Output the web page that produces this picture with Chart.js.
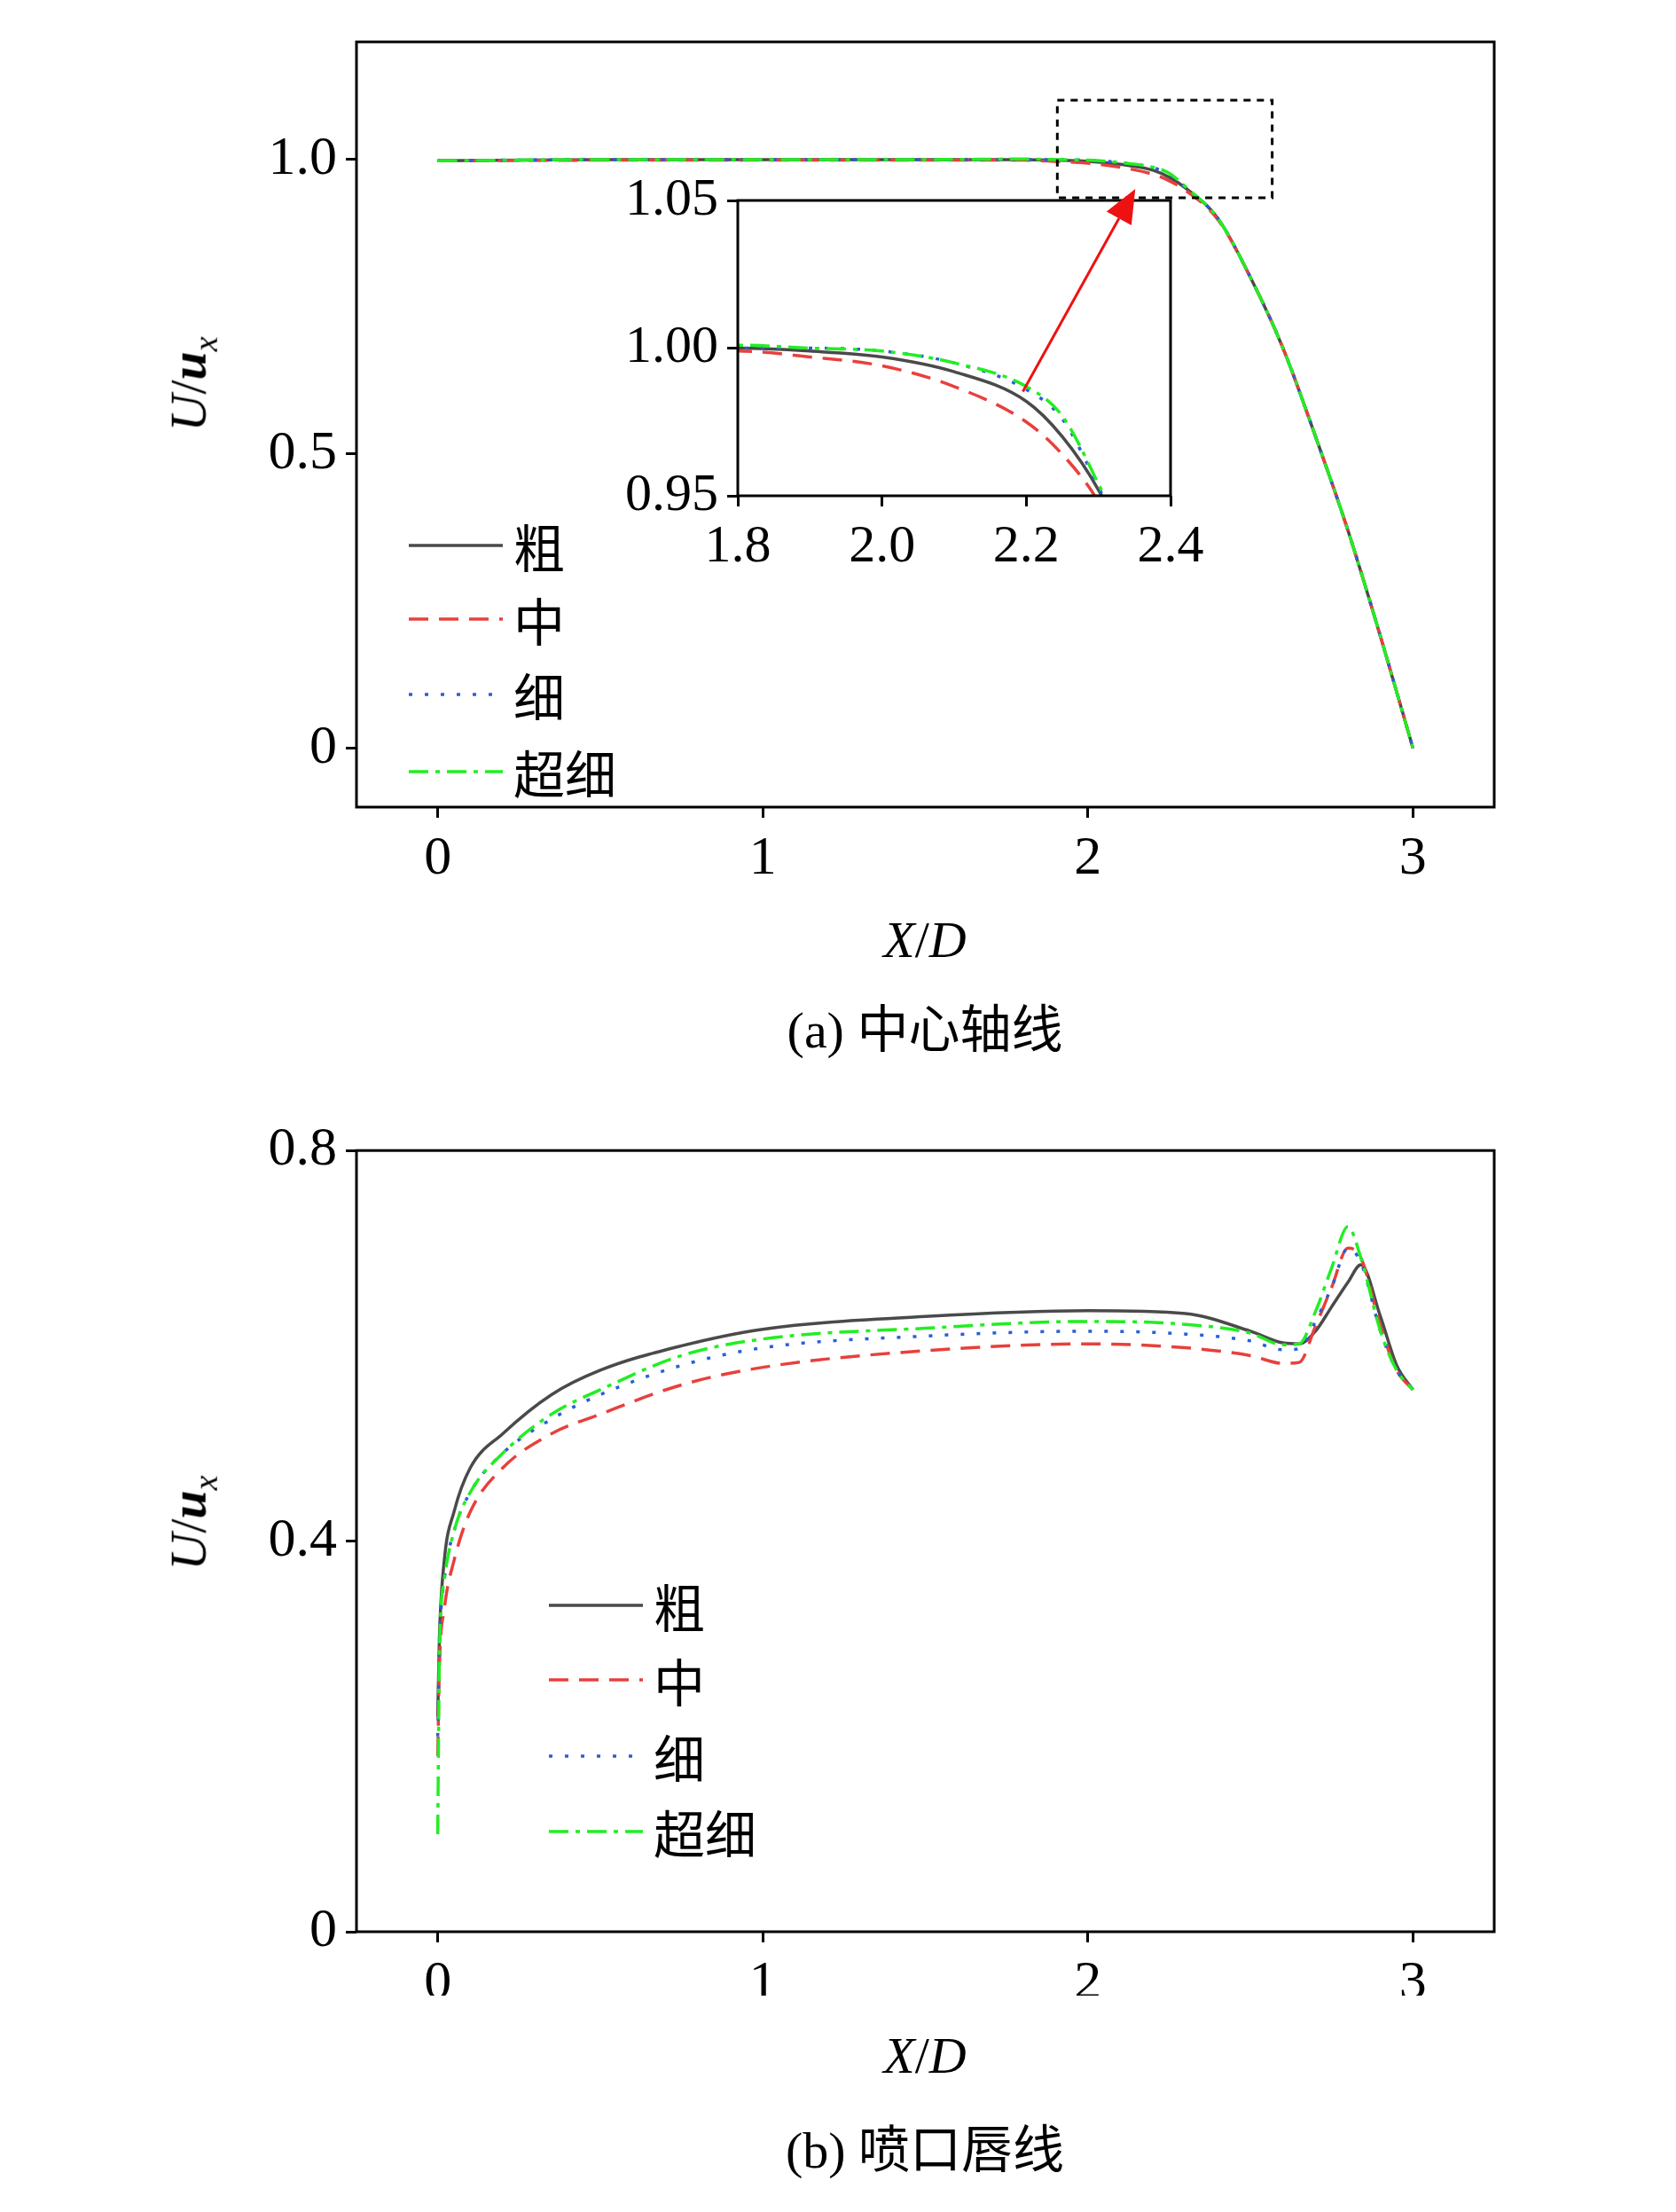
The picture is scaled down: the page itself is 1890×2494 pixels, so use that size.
<!DOCTYPE html>
<html><head><meta charset="utf-8">
<script src="https://cdn.jsdelivr.net/npm/chart.js@4"></script>
<style>
body{margin:0;background:#fff;width:1890px;height:2494px;position:relative;overflow:hidden;font-family:"Liberation Serif","Noto Sans CJK SC",serif;}
canvas{position:absolute;}
.t{position:absolute;font-size:58px;color:#000;white-space:nowrap;line-height:1;}
.lg{position:absolute;}
</style></head><body>
<canvas id="ca" style="left:0;top:0"></canvas>
<canvas id="ci" style="left:680px;top:180px"></canvas>
<canvas id="cb" style="left:0;top:1250px"></canvas>
<div id="txt"></div>
<script>
// 中心轴线
const xA = [0,0.5,1,1.5,1.8,1.9,2.0,2.1,2.2,2.25,2.3,2.4,2.5,2.6,2.7,2.8,2.9,3.0];
const aCu  = [0.998,1,1,1,1.0,0.999,0.997,0.992,0.982,0.97,0.952,0.9,0.8,0.68,0.53,0.37,0.19,0];
const aZh  = [0.998,0.999,0.999,0.999,0.999,0.997,0.994,0.987,0.975,0.964,0.948,0.898,0.8,0.68,0.53,0.37,0.19,0];
const aXi  = [0.998,1,1,1,1.0,1.0,0.999,0.995,0.986,0.976,0.953,0.9,0.8,0.68,0.53,0.37,0.19,0];
const aCx  = [0.998,1,1,1,1.001,1.0,0.999,0.995,0.987,0.977,0.954,0.9,0.8,0.68,0.53,0.37,0.19,0];
// 喷口唇线
const xB = [0,0.005,0.02,0.05,0.1,0.2,0.35,0.5,0.75,1.0,1.5,2.0,2.3,2.5,2.6,2.65,2.7,2.75,2.8,2.84,2.9,2.95,3.0];
const bCu = [0.22,0.30,0.38,0.43,0.475,0.51,0.55,0.575,0.60,0.617,0.63,0.636,0.633,0.615,0.603,0.602,0.615,0.64,0.665,0.683,0.63,0.58,0.555];
const bZh = [0.18,0.27,0.33,0.38,0.43,0.475,0.51,0.53,0.56,0.578,0.595,0.602,0.598,0.59,0.582,0.583,0.62,0.66,0.70,0.69,0.62,0.575,0.555];
const bXi = [0.2,0.29,0.36,0.41,0.45,0.49,0.525,0.55,0.58,0.598,0.61,0.615,0.612,0.605,0.596,0.597,0.625,0.66,0.70,0.685,0.615,0.575,0.555];
const bCx = [0.10,0.28,0.36,0.41,0.45,0.49,0.53,0.555,0.59,0.607,0.618,0.625,0.622,0.613,0.601,0.602,0.635,0.68,0.722,0.69,0.615,0.575,0.555];

const names = ['粗','中','细','超细'];
const styles = [
  {c:'#4a4a4a', d:[]},
  {c:'#e8403c', d:[22,12]},
  {c:'#2a5fd8', d:[4,14]},
  {c:'#22ee22', d:[22,8,5,8]}
];
const xTicks = [0,1,2,3];

function sets(xs, arrs){
  return arrs.map((ys,i)=>({
    label:names[i],
    data: xs.map((x,j)=>({x:x,y:ys[j]})),
    showLine:true, pointRadius:0, borderWidth:3.5,
    borderColor:styles[i].c, borderDash:styles[i].d,
    cubicInterpolationMode:'monotone'
  })).reverse();
}

const frame = {
  id:'frame',
  beforeDatasetsDraw(ch){
    if(ch.options.whiteArea){const a=ch.chartArea;ch.ctx.fillStyle='#fff';ch.ctx.fillRect(a.left,a.top,a.right-a.left,a.bottom-a.top);}
  },
  afterDraw(ch){
    const a=ch.chartArea, c=ch.ctx;
    c.save();c.strokeStyle='#000';c.lineWidth=3;
    c.strokeRect(a.left,a.top,a.right-a.left,a.bottom-a.top);
    c.restore();
  }
};

function scale(min,max,ticks,fmt,fixed,size){
  return {type:'linear',min:min,max:max,
    afterBuildTicks:s=>{s.ticks=ticks.map(v=>({value:v}));},
    afterFit:s=>{ if(fixed.w!=null) s.width=fixed.w; if(fixed.h!=null) s.height=fixed.h; },
    grid:{display:true,drawOnChartArea:false,tickLength:12,color:'#000',lineWidth:3},
    border:{display:false},
    ticks:{font:{family:'"Liberation Serif", serif',size:size||62},color:'#000',padding:10,maxRotation:0,callback:v=>fmt(v)}};
}

function make(id,w,h,ds,xs,ys,pad,extra){
  const cv=document.getElementById(id);cv.width=w;cv.height=h;cv.style.width=w+'px';cv.style.height=h+'px';
  return new Chart(cv,{type:'scatter',data:{datasets:ds},
    options:Object.assign({responsive:false,animation:false,devicePixelRatio:1,
      layout:{padding:pad,autoPadding:false},
      plugins:{legend:{display:false},tooltip:{enabled:false}},
      scales:{x:xs,y:ys}},extra||{}),
    plugins:[frame].concat((extra&&extra.plug)||[])});
}

const fy = v=> v===0?'0':v.toFixed(1);
const chartA = make('ca',1890,1000,sets(xA,[aCu,aZh,aXi,aCx]),
  scale(-0.25,3.25,xTicks,v=>String(v),{h:90}),
  scale(-0.1,1.2,[0,0.5,1.0],fy,{w:402}),
  {top:3,right:205,left:0,bottom:0},
  {plug:[{id:'box',afterDraw(ch){
    const x=ch.scales.x,y=ch.scales.y,c=ch.ctx;
    c.save();c.setLineDash([8,7]);c.lineWidth=3;c.strokeStyle='#000';
    const l=x.getPixelForValue(1.906),r=x.getPixelForValue(2.567),t=y.getPixelForValue(1.101),b=y.getPixelForValue(0.935);
    c.strokeRect(l,t,r-l,b-t);c.restore();}}]});

const arrowPlug={id:'arrow',afterDraw(ch){
  const x=chartA.scales.x,y=chartA.scales.y,c=ch.ctx;
  const ox=680,oy=180;
  const x0=x.getPixelForValue(1.80)-ox,y0=y.getPixelForValue(0.606)-oy;
  const x1=x.getPixelForValue(2.146)-ox,y1=y.getPixelForValue(0.95)-oy;
  c.save();c.strokeStyle='#ee1111';c.fillStyle='#ee1111';c.lineWidth=3;
  const ang=Math.atan2(y1-y0,x1-x0),L=38,W=16;
  const bx=x1-L*Math.cos(ang),by=y1-L*Math.sin(ang);
  c.beginPath();c.moveTo(x0,y0);c.lineTo(bx,by);c.stroke();
  c.beginPath();c.moveTo(x1,y1);
  c.lineTo(bx+W*Math.sin(ang),by-W*Math.cos(ang));
  c.lineTo(bx-W*Math.sin(ang),by+W*Math.cos(ang));c.closePath();c.fill();c.restore();}};

make('ci',700,480,sets(xA,[aCu,aZh,aXi,aCx]),
  scale(1.8,2.4,[1.8,2.0,2.2,2.4],v=>v.toFixed(1),{h:101},60),
  scale(0.95,1.05,[0.95,1.0,1.05],v=>v.toFixed(2),{w:152},60),
  {top:22,right:60,left:0,bottom:0},{whiteArea:true,plug:[arrowPlug]});

make('cb',1890,1000,sets(xB,[bCu,bZh,bXi,bCx]),
  scale(-0.25,3.25,xTicks,v=>String(v),{h:72}),
  scale(0,0.8,[0,0.4,0.8],fy,{w:402}),
  {top:37,right:205,left:0,bottom:0});

// texts
const T=document.getElementById('txt');
function txt(html,x,y,extra){const d=document.createElement('div');d.className='t';d.innerHTML=html;
  d.style.left=x+'px';d.style.top=y+'px';d.style.transform='translate(-50%,-50%)'+(extra||'');T.appendChild(d);}
const yt='<i>U</i>/<i><b>u</b></i><sub style="font-size:38px;font-style:italic">x</sub>';
txt(yt,217,433,' rotate(-90deg)');
txt(yt,217,1717,' rotate(-90deg)');
txt('<i>X</i>/<i>D</i>',1043,1060);
txt('<i>X</i>/<i>D</i>',1043,2318);
txt('(a) 中心轴线',1043,1162);
txt('(b) 喷口唇线',1043,2425);
function legend(x,ys){
  names.forEach((n,i)=>{
    const s=styles[i];
    const d=document.createElement('div');d.className='lg';d.style.left=x+'px';d.style.top=(ys[i]-32)+'px';
    d.innerHTML='<svg width="110" height="64" style="vertical-align:middle"><line x1="0" y1="32" x2="106" y2="32" stroke="'+s.c+'" stroke-width="3.5" stroke-dasharray="'+(s.d.length?s.d.join(','):'none')+'"/></svg>'+
      '<span style="font-size:58px;font-family:\'Noto Sans CJK SC\',serif;vertical-align:middle;margin-left:8px">'+n+'</span>';
    T.appendChild(d);
  });
}
legend(461,[605,688,773,860]);
legend(619,[1800,1884,1970,2055]);
</script>
</body></html>
